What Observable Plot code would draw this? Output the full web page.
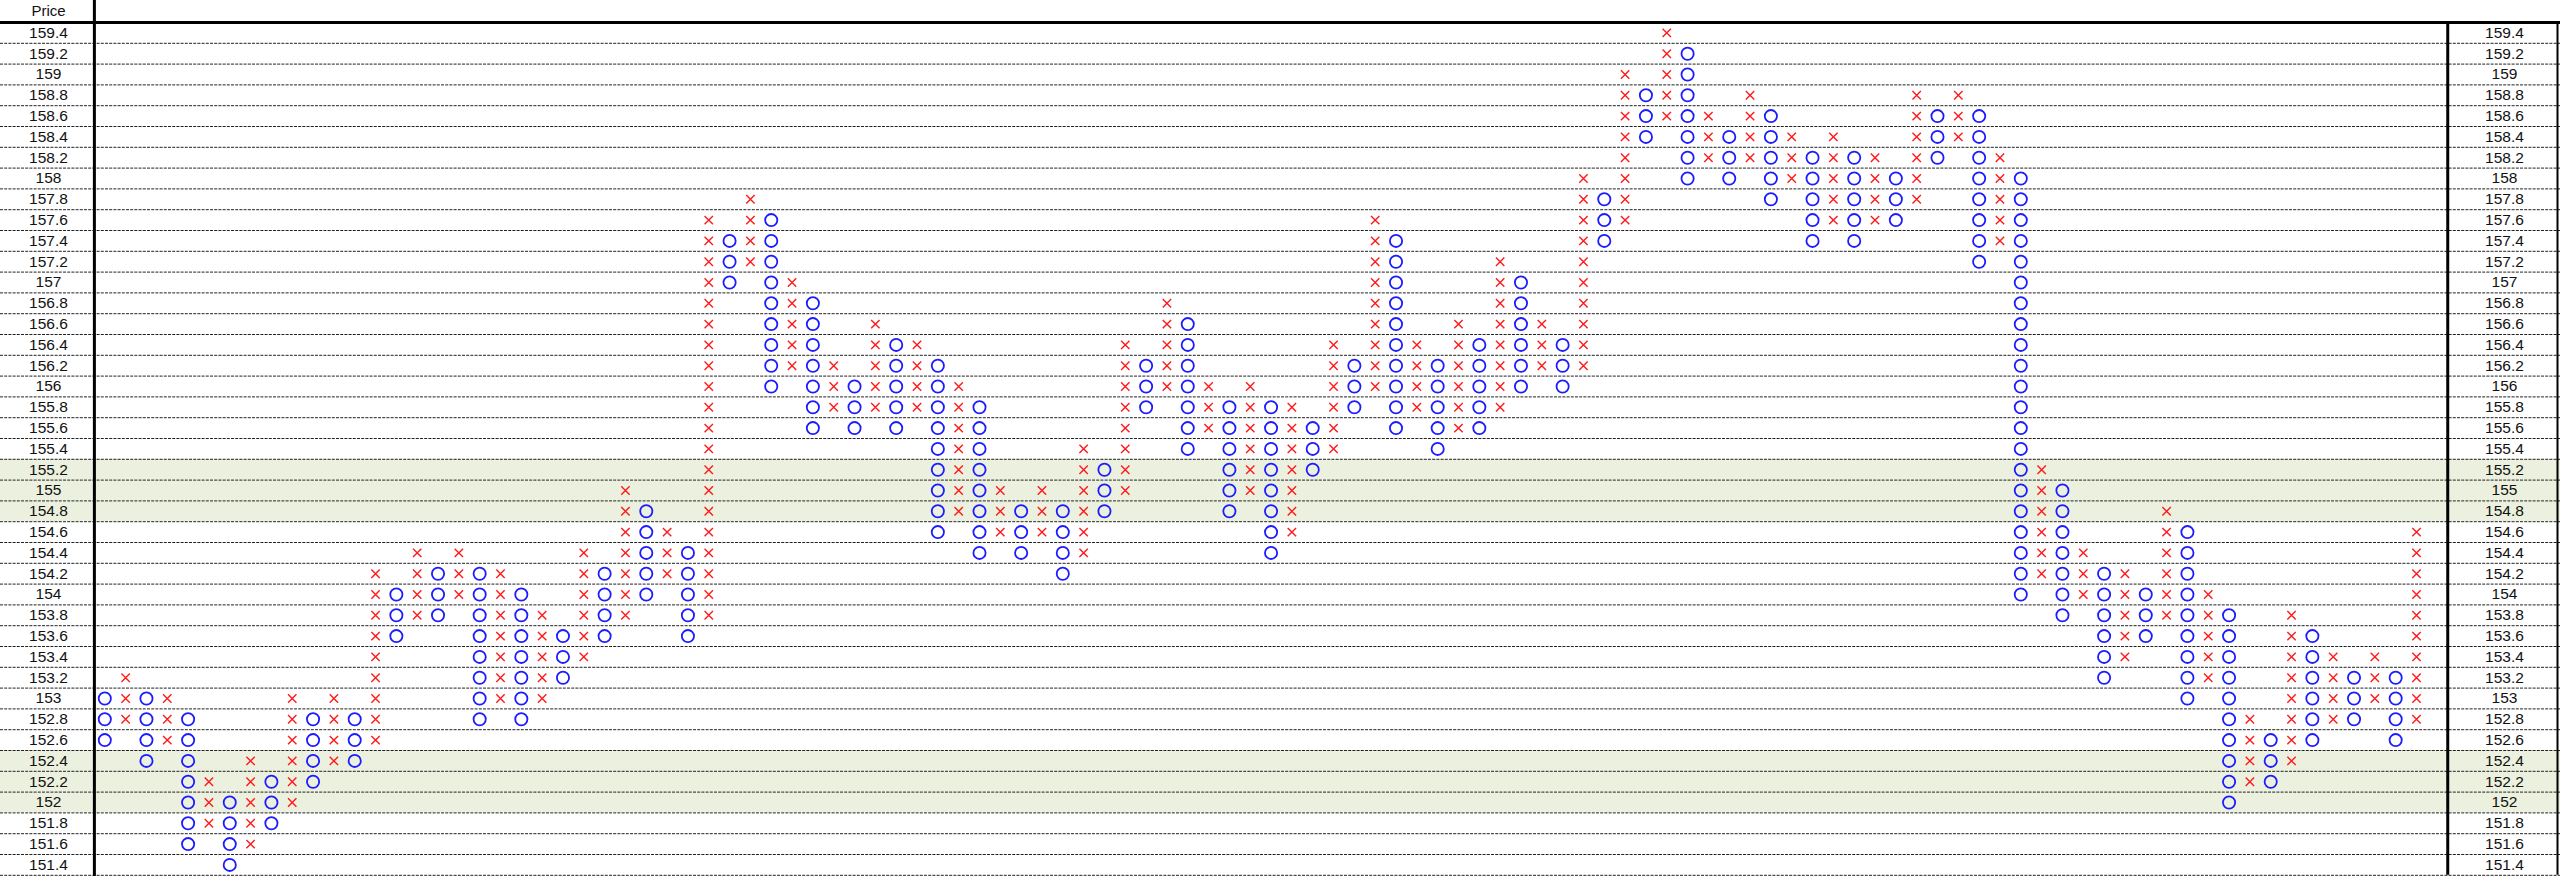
<!DOCTYPE html>
<html>
<head>
<meta charset="utf-8">
<script src="https://cdn.jsdelivr.net/npm/d3@7"></script>
<script src="https://cdn.jsdelivr.net/npm/@observablehq/plot@0.6"></script>
<style>
  html, body { margin: 0; padding: 0; background: #fff; }
  #chart svg { display: block; }
</style>
</head>
<body>
<div id="chart"></div>
<script>
// Point & figure chart: 0.2 box size, 3-box reversal, columns alternate O / X.
const boxSize = 0.2;
const firstColumnKind = "O";

// Price rows shown on both label columns (top to bottom)
const priceTicks = [
  159.4, 159.2, 159, 158.8, 158.6, 158.4, 158.2, 158, 157.8, 157.6,
  157.4, 157.2, 157, 156.8, 156.6, 156.4, 156.2, 156, 155.8, 155.6,
  155.4, 155.2, 155, 154.8, 154.6, 154.4, 154.2, 154, 153.8, 153.6,
  153.4, 153.2, 153, 152.8, 152.6, 152.4, 152.2, 152, 151.8, 151.6, 151.4
];

// Highlighted price bands
const shadedPrices = [155.2, 155, 154.8, 152.4, 152.2, 152];

// Lowest box of each column
const columnLow = [
  152.6, 152.8, 152.4, 152.6, 151.6, 151.8, 151.4, 151.6, 151.8, 152.0,
  152.2, 152.4, 152.4, 152.6, 153.6, 153.8, 153.8, 154.0, 152.8, 153.0,
  152.8, 153.0, 153.2, 153.4, 153.6, 153.8, 154.0, 154.2, 153.6, 153.8,
  157.0, 157.2, 156.0, 156.2, 155.6, 155.8, 155.6, 155.8, 155.6, 155.8,
  154.6, 154.8, 154.4, 154.6, 154.4, 154.6, 154.2, 154.4, 154.8, 155.0,
  155.8, 156.0, 155.4, 155.6, 154.8, 155.0, 154.4, 154.6, 155.2, 155.4,
  155.8, 156.0, 155.6, 155.8, 155.4, 155.6, 155.6, 155.8, 156.0, 156.2,
  156.0, 156.2, 157.4, 157.6, 158.4, 158.6, 158.0, 158.2, 158.0, 158.2,
  157.8, 158.0, 157.4, 157.6, 157.4, 157.6, 157.6, 157.8, 158.2, 158.4,
  157.2, 157.4, 154.0, 154.2, 153.8, 154.0, 153.2, 153.4, 153.6, 153.8,
  153.0, 153.2, 152.0, 152.2, 152.2, 152.4, 152.6, 152.8, 152.8, 153.0,
  152.6, 152.8
];

// Highest box of each column
const columnHigh = [
  153.0, 153.2, 153.0, 153.0, 152.8, 152.2, 152.0, 152.4, 152.2, 153.0,
  152.8, 153.0, 152.8, 154.2, 154.0, 154.4, 154.2, 154.4, 154.2, 154.2,
  154.0, 153.8, 153.6, 154.4, 154.2, 155.0, 154.8, 154.6, 154.4, 157.6,
  157.4, 157.8, 157.6, 157.0, 156.8, 156.2, 156.0, 156.6, 156.4, 156.4,
  156.2, 156.0, 155.8, 155.0, 154.8, 155.0, 154.8, 155.4, 155.2, 156.4,
  156.2, 156.8, 156.6, 156.0, 155.8, 156.0, 155.8, 155.8, 155.6, 156.4,
  156.2, 157.6, 157.4, 156.4, 156.2, 156.6, 156.4, 157.2, 157.0, 156.6,
  156.4, 158.0, 157.8, 159.0, 158.8, 159.4, 159.2, 158.6, 158.4, 158.8,
  158.6, 158.4, 158.2, 158.4, 158.2, 158.2, 158.0, 158.8, 158.6, 158.8,
  158.6, 158.2, 158.0, 155.2, 155.0, 154.4, 154.2, 154.2, 154.0, 154.8,
  154.6, 154.0, 153.8, 152.8, 152.6, 153.8, 153.6, 153.4, 153.2, 153.4,
  153.2, 154.6
];

// Expand each column into its individual boxes
const boxes = [];
columnLow.forEach((low, i) => {
  const n = Math.round((columnHigh[i] - low) / boxSize) + 1;
  const kind = (i % 2 === 0) ? firstColumnKind : (firstColumnKind === "O" ? "X" : "O");
  for (let k = 0; k < n; k++) {
    boxes.push({col: i, price: +(low + k * boxSize).toFixed(1), kind});
  }
});
const oBoxes = boxes.filter(d => d.kind === "O");
const xBoxes = boxes.filter(d => d.kind === "X");

// Layout (pixels)
const W = 2560, H = 876;
const firstColX = 104.3, lastColX = 2416;
const colCount = columnLow.length;
const colStep = (lastColX - firstColX) / (colCount - 1);
const headerBottom = 22, rowH = 20.8;
const topPrice = priceTicks[0], bottomPrice = priceTicks[priceTicks.length - 1];
const yTop = headerBottom + rowH / 2;
const yBottom = headerBottom + rowH * (priceTicks.length - 0.5);
const colAt = px => (px - firstColX) / colStep;   // pixel -> column index
const half = boxSize / 2;

const fmt = p => String(+p.toFixed(1));
const font = "'Liberation Sans', Arial, sans-serif";

const chart = Plot.plot({
  width: W,
  height: H,
  margin: 0,
  style: {background: "#fff", fontFamily: font},
  x: {type: "linear", domain: [0, colCount - 1], range: [firstColX, lastColX], axis: null},
  y: {type: "linear", domain: [topPrice, bottomPrice], range: [yTop, yBottom], axis: null},
  marks: [
    // shaded bands span the whole width
    Plot.rect(shadedPrices, {y1: p => p - half, y2: p => p + half, fill: "#EBF1DE"}),
    // dashed row separators
    Plot.ruleY(priceTicks, {y: p => p - half, stroke: "#222", strokeWidth: 1, strokeDasharray: "3,1.2"}),
    // header line and column dividers
    Plot.ruleY([topPrice + half], {stroke: "#000", strokeWidth: 3}),
    Plot.ruleX([-0.5], {stroke: "#000", strokeWidth: 3}),
    Plot.ruleX([colCount + 0.5], {y1: topPrice + half, y2: bottomPrice - half, stroke: "#000", strokeWidth: 3}),
    Plot.ruleX([colAt(W - 3)], {y1: topPrice + half, y2: bottomPrice - half, stroke: "#000", strokeWidth: 2}),
    // boxes
    Plot.dot(xBoxes, {x: "col", y: "price", symbol: "times", r: 3.9, stroke: "#ff1a1a", strokeWidth: 1.4}),
    Plot.dot(oBoxes, {x: "col", y: "price", r: 6.1, stroke: "#1c1cff", strokeWidth: 1.8, fill: "none"}),
    // price labels, left and right
    Plot.text(priceTicks, {y: p => p, text: fmt, frameAnchor: "left", dx: 48, textAnchor: "middle", fontSize: 15.5, fill: "#111"}),
    Plot.text(priceTicks, {y: p => p, text: fmt, frameAnchor: "right", dx: -56, textAnchor: "middle", fontSize: 15.5, fill: "#111"}),
    Plot.text(["Price"], {text: d => d, frameAnchor: "top-left", dx: 48, dy: 11, textAnchor: "middle", lineAnchor: "middle", fontSize: 15, fill: "#111"})
  ]
});

document.getElementById("chart").append(chart);
</script>
</body>
</html>
